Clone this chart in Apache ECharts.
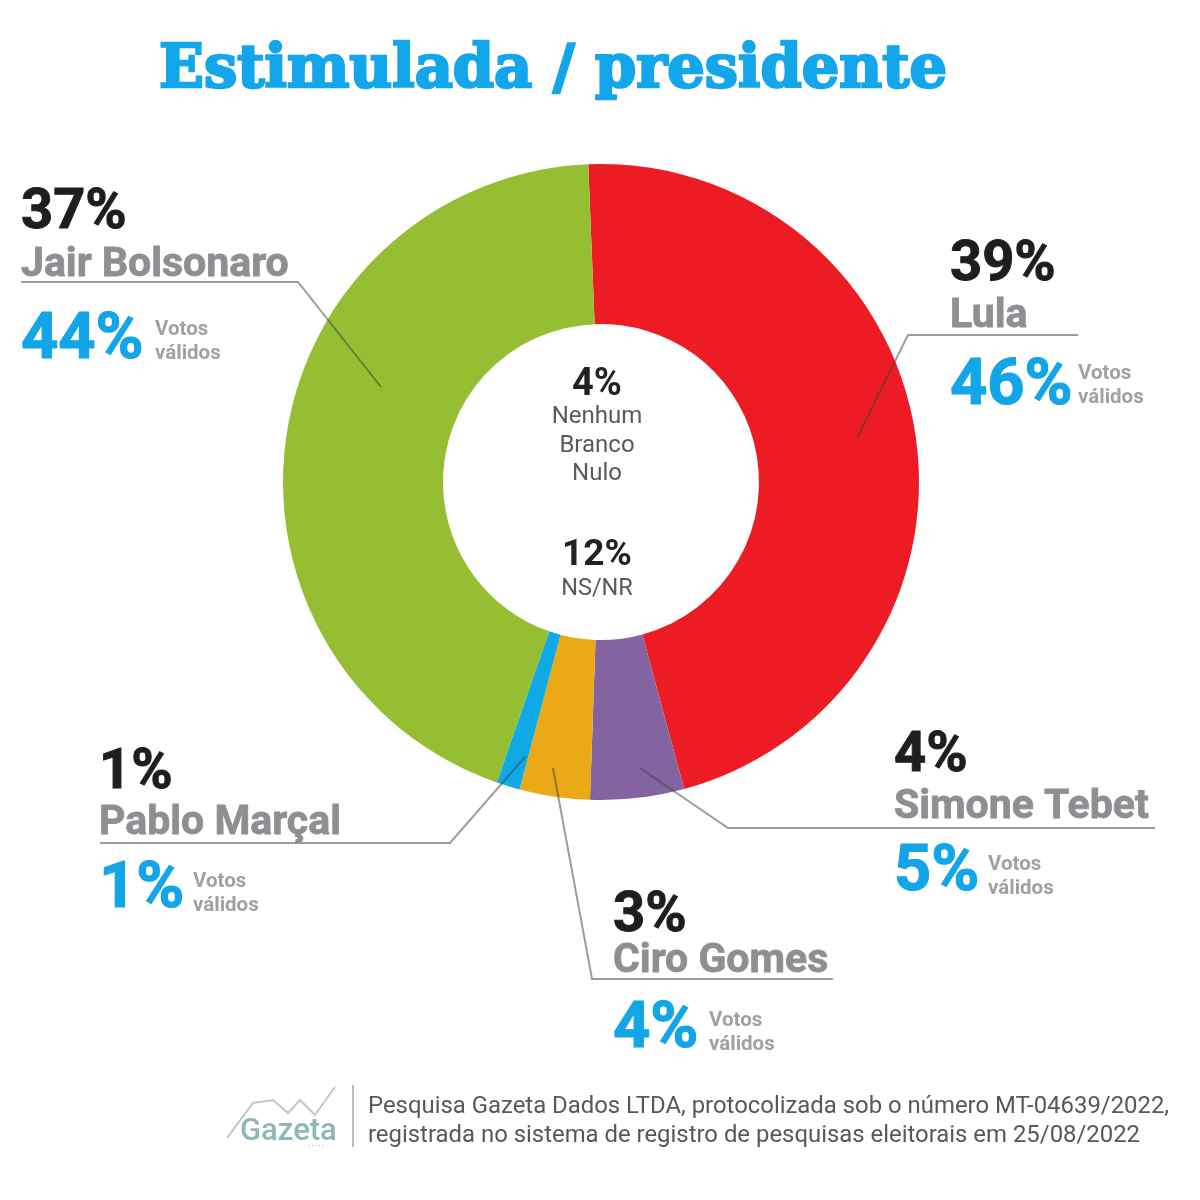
<!DOCTYPE html>
<html><head><meta charset="utf-8">
<style>html,body{margin:0;padding:0;background:#fff}#c{width:1200px;height:1200px}</style>
<script src="https://cdn.jsdelivr.net/npm/echarts@6/dist/echarts.min.js"></script>
</head><body><div id="c"></div>
<script>
const candidates = ['Lula','Simone Tebet','Ciro Gomes','Pablo Marçal','Jair Bolsonaro'];
const stimulated = [39,4,3,1,37];
const validVotes = [46,5,4,1,44];
const sliceColors = ['#ed1c24','#8364a1','#eaaa16','#0fa9e6','#96be33'];
const centerLabels = [['4%',['Nenhum','Branco','Nulo']],['12%',['NS/NR']]];
const titleText = 'Estimulada / presidente';
const footerLines = ['Pesquisa Gazeta Dados LTDA, protocolizada sob o número MT-04639/2022,','registrada no sistema de registro de pesquisas eleitorais em 25/08/2022'];
const validWords = ['Votos','válidos'];

// annotation layout, same order as candidates
const layouts = [
 {x:950,pctY:266,nameY:317,blueY:388,votesX:1078,votesY:374,leader:[[1078,335],[908,335],[857,438]]},
 {x:894,pctY:757,nameY:808,blueY:874,votesX:988,votesY:865,leader:[[1155,828],[728,828],[640,768]]},
 {x:613,pctY:917,nameY:962,blueY:1031,votesX:709,votesY:1021,leader:[[833,979],[592,979],[553,768]]},
 {x:99,pctY:774,nameY:824,blueY:891,votesX:193,votesY:882,leader:[[100,843],[450,843],[525,757]]},
 {x:21,pctY:214,nameY:266,blueY:342,votesX:155,votesY:330,leader:[[21,282],[298,282],[381,387]]}
];
const FF='Roboto, sans-serif';
const txt=(text,x,y,size,fill,weight,align,family,boldness)=>({type:'text',z:20,style:Object.assign({text,x,y,fill,
  font:`${weight} ${size}px ${family||FF}`,textAlign:align||'left',textVerticalAlign:'middle'},
  boldness?{stroke:fill,lineWidth:boldness}:{})});
const line=(points,stroke,w)=>({type:'polyline',z:15,shape:{points},style:{stroke,lineWidth:w,fill:null}});

const g=[];
g.push(txt(titleText,553,72,59,'#14a6ea',700,'center','"DejaVu Serif", serif',2.5));
candidates.forEach((n,i)=>{
  const L=layouts[i];
  g.push(line(L.leader,'rgba(60,60,60,0.5)',2));
  g.push(txt(stimulated[i]+'%',L.x,L.pctY,56,'#1e1e20',700,null,null,1));
  g.push(txt(n,L.x,L.nameY,41,'#8e8f92',700,null,null,0.8));
  g.push(txt(validVotes[i]+'%',L.x,L.blueY,65,'#12a5e8',700,null,null,1.2));
  validWords.forEach((w,k)=>g.push(txt(w,L.votesX,L.votesY+k*24,20.5,'#a0a1a4',700)));
});
g.push(txt(centerLabels[0][0],597,385,38,'#222',700,'center'));
centerLabels[0][1].forEach((w,k)=>g.push(txt(w,597,417+k*28.5,24,'#5a5a5c',400,'center')));
g.push(txt(centerLabels[1][0],597,556,37,'#222',700,'center'));
g.push(txt(centerLabels[1][1][0],597,589,23.5,'#5a5a5c',400,'center'));
// footer
g.push(line([[353,1085],[353,1147]],'#bdbdbd',2));
footerLines.forEach((t,k)=>g.push(txt(t,368,1107+k*29,23.9,'#58585a',400)));
g.push(line([[227,1138],[253,1103],[273,1100],[288,1113],[300,1100],[315,1115],[335,1087]],'#c4c7c7',2));
g.push(txt('Gazeta',240,1132,31,'#8db8ba',500));
g.push(txt('• • • • •',308,1146,6,'#b5b5b5',400));

const chart=echarts.init(document.getElementById('c'),null,{renderer:'canvas'});
chart.setOption({
  animation:false,backgroundColor:'#fff',
  series:[{type:'pie',center:[601,482],radius:[158,318],startAngle:92.3,clockwise:true,silent:true,
    label:{show:false},labelLine:{show:false},
    data:candidates.map((name,i)=>({name,value:stimulated[i],itemStyle:{color:sliceColors[i]}}))}],
  graphic:{elements:g}
});
</script></body></html>
